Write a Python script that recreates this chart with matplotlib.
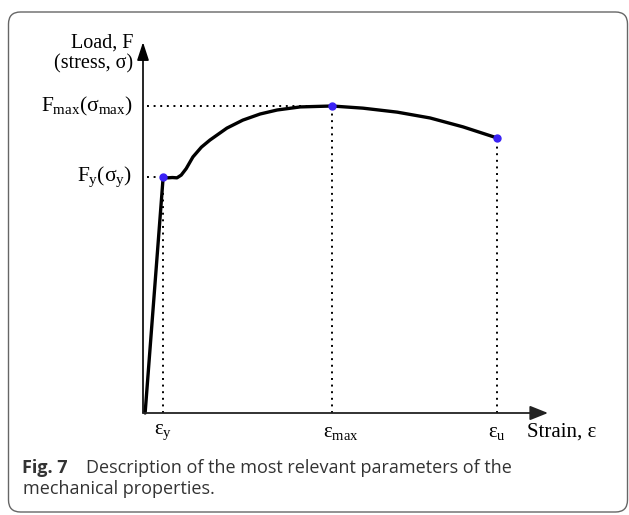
import matplotlib.pyplot as plt
from matplotlib.patches import FancyBboxPatch
from matplotlib.transforms import IdentityTransform

plt.rcParams['font.family'] = ['Liberation Serif', 'DejaVu Serif']
plt.rcParams['mathtext.fontset'] = 'custom'
plt.rcParams['mathtext.rm'] = 'Liberation Serif'
plt.rcParams['mathtext.it'] = 'Liberation Serif'

# load-strain curve, normalised (strain / eps_u, load / F_max)
strain = [0.006, 0.057, 0.070, 0.083, 0.096, 0.108, 0.122, 0.141, 0.165, 0.189,
          0.237, 0.282, 0.331, 0.379, 0.444, 0.534, 0.621, 0.718, 0.811, 0.904, 1.0]
load = [0.0, 0.769, 0.766, 0.767, 0.766, 0.775, 0.796, 0.834, 0.866, 0.889,
        0.928, 0.954, 0.974, 0.987, 0.997, 1.0, 0.993, 0.980, 0.961, 0.932, 0.896]

# characteristic points: yield, maximum, ultimate
key_strain = [0.057, 0.534, 1.0]
key_load = [0.769, 1.0, 0.896]
strain_labels = [r'$ε_{y}$', r'$ε_{max}$', r'$ε_{u}$']
load_labels = [r'$F_{y}(σ_{y})$', r'$F_{max}(σ_{max})$']

W, H = 629, 515
fig = plt.figure(figsize=(W / 100, H / 100), dpi=100)
ax = fig.add_axes([0, 0, 1, 1])
# pixel origin of the plot at (143, 413), 354 px per strain unit, 307 px per load unit
ax.set_xlim(-143 / 354, (W - 143) / 354)
ax.set_ylim(-(H - 413) / 307, 413 / 307)
ax.axis('off')

# axes with arrows
ax.annotate('', xy=(0, 1.208), xytext=(0, 0),
            arrowprops=dict(arrowstyle='-|>,head_length=0.55,head_width=0.18',
                            mutation_scale=20, lw=1.2, color='black',
                            shrinkA=0, shrinkB=0))
ax.annotate('', xy=(1.144, 0), xytext=(0, 0),
            arrowprops=dict(arrowstyle='-|>,head_length=0.55,head_width=0.22',
                            mutation_scale=20, lw=1.3, color='#222222',
                            shrinkA=0, shrinkB=0))

# dotted guide lines
dots = dict(color='black', lw=1.4, linestyle=(0, (1, 2.4)))
for s, l in zip(key_strain, key_load):
    ax.plot([s, s], [0, l], **dots)
for s, l in zip(key_strain[:2], key_load[:2]):
    ax.plot([0.012, s], [l, l], **dots)

ax.plot(strain, load, color='black', lw=2.4, solid_joinstyle='round',
        solid_capstyle='round')
ax.plot(key_strain, key_load, 'o', color='#3a22f5', ms=5, zorder=5)

# labels
for s, lab in zip(key_strain, strain_labels):
    ax.text(s - 0.026, -0.062, lab, fontsize=15, ha='left', va='center')
ax.text(1.085, -0.062, 'Strain, ε', fontsize=15, ha='left', va='center')
for l, lab in zip(key_load[:2], load_labels):
    ax.text(-0.03, l, lab, fontsize=15.5, ha='right', va='center')
ax.text(-0.028, 1.17, 'Load, F\n(stress, σ)', fontsize=14.5, ha='right',
        va='center', multialignment='right', linespacing=1.1)

# caption
cap = dict(fontsize=13, color='#333333', family='Open Sans', va='center')
fig.text(22 / W, 1 - 468 / H, 'Fig. 7', fontweight='bold', **cap)
fig.text(86 / W, 1 - 468 / H, 'Description of the most relevant parameters of the', **cap)
fig.text(23 / W, 1 - 489 / H, 'mechanical properties.', **cap)

# rounded frame
frame = FancyBboxPatch((8.5, 3), 619, 500, boxstyle='round,pad=0,rounding_size=12',
                       transform=IdentityTransform(), fill=False,
                       edgecolor='#666666', lw=1.0)
fig.patches.append(frame)

fig.savefig('out.png', dpi=100)
